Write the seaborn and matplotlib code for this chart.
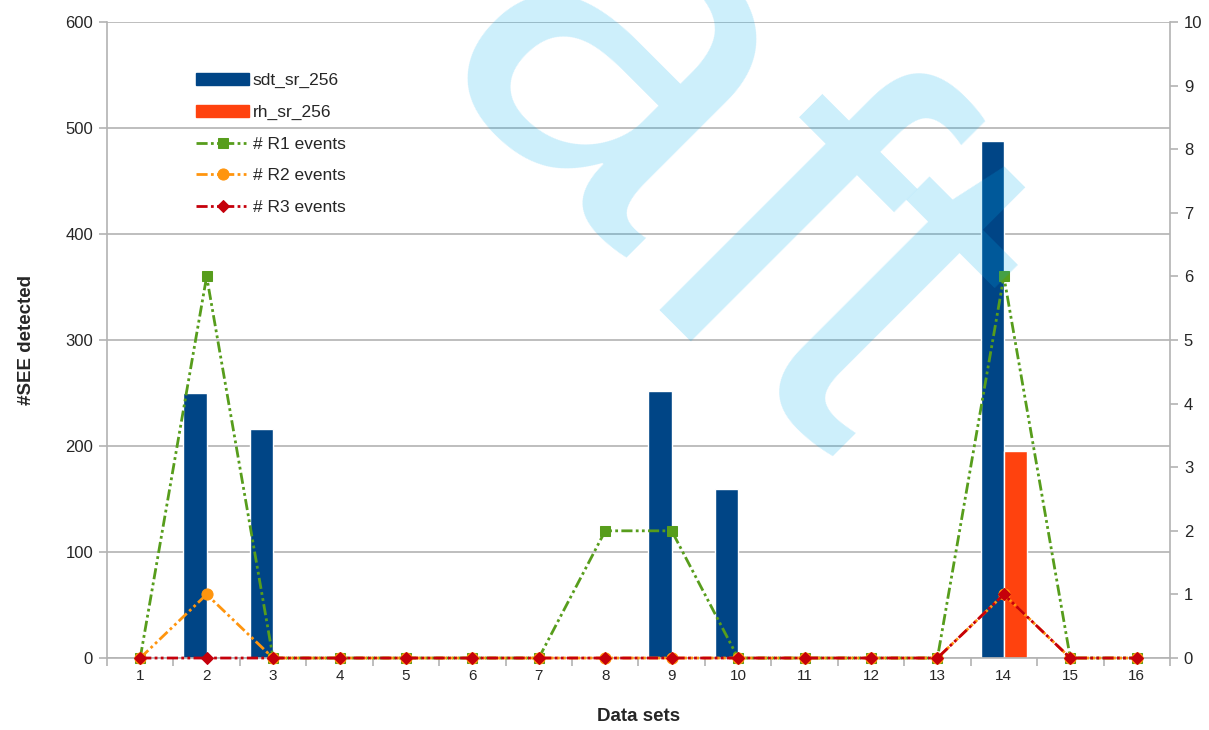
"""Bar + line chart of SEE counts and R1/R2/R3 events per data set."""

import matplotlib

matplotlib.use("Agg")

import matplotlib.pyplot as plt
import numpy as np
import pandas as pd
import seaborn as sns
from matplotlib.patches import Patch

data_sets = [1, 2, 3, 4, 5, 6, 7, 8, 9, 10, 11, 12, 13, 14, 15, 16]
sdt_sr_256 = [0, 250, 216, 0, 0, 0, 0, 0, 252, 159, 0, 0, 0, 488, 0, 0]
rh_sr_256 = [0, 0, 0, 0, 0, 0, 0, 0, 0, 0, 0, 0, 0, 195, 0, 0]
r1_events = [0, 6, 0, 0, 0, 0, 0, 2, 2, 0, 0, 0, 0, 6, 0, 0]
r2_events = [0, 1, 0, 0, 0, 0, 0, 0, 0, 0, 0, 0, 0, 1, 0, 0]
r3_events = [0, 0, 0, 0, 0, 0, 0, 0, 0, 0, 0, 0, 0, 1, 0, 0]

BAR_COLORS = {"sdt_sr_256": "#004586", "rh_sr_256": "#ff420e"}
GRID = "#b3b3b3"

sns.set_theme(style="white")
plt.rcParams["font.family"] = ["Liberation Sans", "DejaVu Sans"]

bars = pd.DataFrame(
    {
        "data_set": data_sets * 2,
        "see": sdt_sr_256 + rh_sr_256,
        "series": ["sdt_sr_256"] * len(data_sets) + ["rh_sr_256"] * len(data_sets),
    }
)

fig = plt.figure(figsize=(12.09, 7.30), dpi=100)
ax = fig.add_axes([0.0885, 0.0986, 0.8792, 0.8712])

sns.barplot(
    data=bars,
    x="data_set",
    y="see",
    hue="series",
    palette=BAR_COLORS,
    native_scale=True,
    width=0.7,
    saturation=1,
    legend=False,
    ax=ax,
)
ax.set_xlim(0.5, 16.5)
ax.set_ylim(0, 600)
ax.set_yticks(range(0, 601, 100))
ax.set_xticks(data_sets)
ax.set_xticks(np.arange(0.5, 17, 1), minor=True)
ax.set_axisbelow(True)
ax.yaxis.grid(True, color=GRID, linewidth=1.2)
ax.xaxis.grid(False)
for side in ["left", "right", "bottom"]:
    ax.spines[side].set_color(GRID)
    ax.spines[side].set_linewidth(1.2)
ax.spines["top"].set_visible(False)
ax.tick_params(axis="y", which="major", length=6, width=1.2, color=GRID, pad=4, labelsize=12, left=True)
ax.tick_params(axis="x", which="major", length=0, pad=8, labelsize=11)
ax.tick_params(axis="x", which="minor", length=6, width=1.2, color=GRID, bottom=True)
ax.set_xlabel("Data sets", fontsize=13.5, fontweight="bold", labelpad=18)
ax.set_ylabel("#SEE detected", fontsize=13.5, fontweight="bold", labelpad=22)

ax2 = ax.twinx()
dash = (0, (4, 1.2, 1, 1.2, 1, 1.2))
line_kws = dict(linewidth=2, linestyle=dash, clip_on=False, ax=ax2)
sns.lineplot(x=data_sets, y=r1_events, color="#579d1c", marker="s", markersize=7,
             markeredgecolor="#579d1c", label="# R1 events", **line_kws)
sns.lineplot(x=data_sets, y=r2_events, color="#ff950e", marker="o", markersize=8,
             markeredgecolor="#ff950e", label="# R2 events", **line_kws)
sns.lineplot(x=data_sets, y=r3_events, color="#c5000b", marker="D", markersize=6,
             markeredgecolor="#c5000b", label="# R3 events", **line_kws)
ax2.set_ylim(0, 10)
ax2.set_yticks(range(0, 11))
ax2.grid(False)
for side in ["left", "right", "bottom", "top"]:
    ax2.spines[side].set_visible(False)
ax2.tick_params(axis="y", length=6, width=1.2, color=GRID, pad=4, labelsize=12, right=True)

line_handles, line_labels = ax2.get_legend_handles_labels()
bar_handles = [Patch(color=c, label=k) for k, c in BAR_COLORS.items()]
ax2.legend(
    handles=bar_handles + line_handles,
    labels=list(BAR_COLORS) + line_labels,
    loc="upper left",
    bbox_to_anchor=(0.084, 0.92),
    frameon=False,
    fontsize=12.5,
    borderpad=0,
    borderaxespad=0,
    labelspacing=0.95,
    handlelength=3.05,
    handletextpad=0.2,
)

# translucent "draft" watermark laid over the plot, one glyph at a time
for letter, x, y in [("a", 0.506, 0.889), ("f", 0.635, 0.671), ("t", 0.723, 0.558)]:
    fig.text(x, y, letter, fontsize=365, color="#00aeef", alpha=0.2, rotation=-45,
             rotation_mode="anchor", ha="center", va="center", zorder=10)

fig.savefig("out.png", dpi=100)
